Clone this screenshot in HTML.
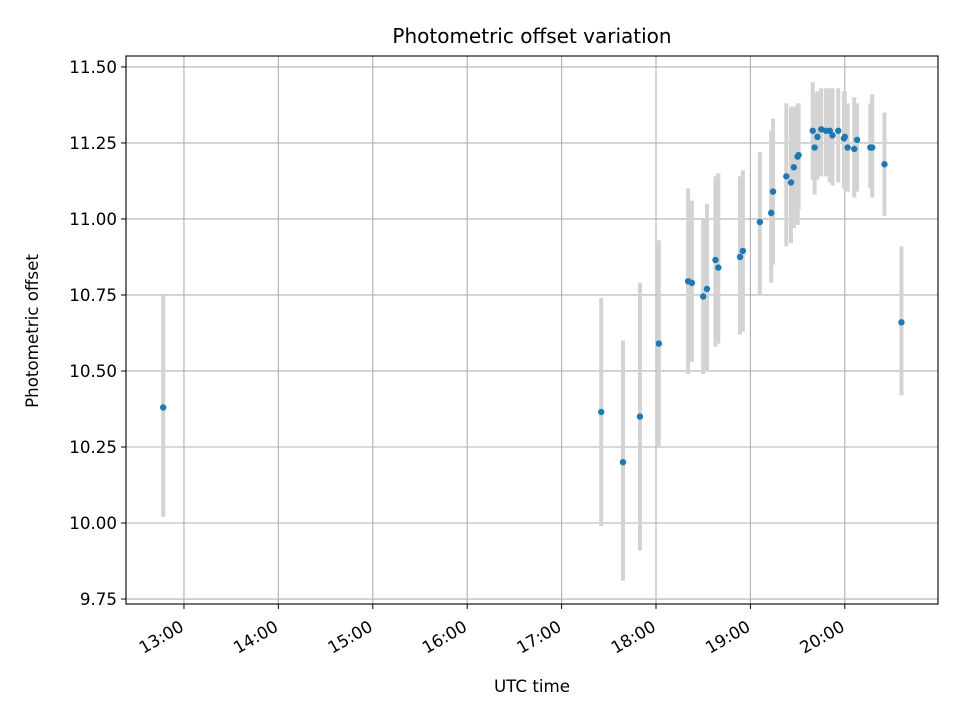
<!DOCTYPE html>
<html><head><meta charset="utf-8"><style>
html,body{margin:0;padding:0;background:#fff;}
svg{display:block;font-family:"DejaVu Sans","Liberation Sans",sans-serif;}
</style></head><body>
<svg id="chart" width="960" height="720" xmlns="http://www.w3.org/2000/svg">
<rect width="960" height="720" fill="#fff"/>
<text x="532" y="43" font-size="20" text-anchor="middle">Photometric offset variation</text>
<text x="532" y="692" font-size="16.7" text-anchor="middle">UTC time</text>
<text transform="translate(38,331) rotate(-90)" font-size="16.7" text-anchor="middle">Photometric offset</text>
<g id="grid"></g><g id="bars"></g><g id="pts"></g><g id="axes"></g>
</svg>
<script>
const times=[12.78,17.42,17.65,17.83,18.03,18.34,18.38,18.50,18.54,18.63,18.66,18.89,18.92,19.10,19.22,19.24,19.38,19.43,19.46,19.50,19.51,19.66,19.68,19.71,19.75,19.80,19.84,19.87,19.93,19.99,20.00,20.03,20.10,20.13,20.27,20.29,20.42,20.60];
const values=[10.38,10.365,10.20,10.35,10.59,10.795,10.79,10.745,10.77,10.865,10.84,10.875,10.895,10.99,11.02,11.09,11.14,11.12,11.17,11.205,11.21,11.29,11.235,11.27,11.295,11.29,11.29,11.275,11.29,11.265,11.27,11.235,11.23,11.26,11.235,11.235,11.18,10.66];
const lows=[10.02,9.99,9.81,9.91,10.25,10.49,10.53,10.49,10.50,10.58,10.59,10.62,10.63,10.75,10.79,10.85,10.91,10.92,10.97,10.98,11.03,11.13,11.08,11.13,11.14,11.14,11.12,11.11,11.12,11.10,11.12,11.09,11.07,11.09,11.10,11.07,11.01,10.42];
const highs=[10.75,10.74,10.60,10.79,10.93,11.10,11.06,11.00,11.05,11.14,11.15,11.14,11.16,11.22,11.29,11.33,11.38,11.37,11.37,11.38,11.38,11.45,11.41,11.42,11.43,11.43,11.43,11.43,11.43,11.42,11.42,11.38,11.40,11.38,11.38,11.41,11.35,10.91];
const xTicks=[13,14,15,16,17,18,19,20];
const xTickLabels=["13:00","14:00","15:00","16:00","17:00","18:00","19:00","20:00"];
const yTicks=[9.75,10.0,10.25,10.5,10.75,11.0,11.25,11.5];
const yTickLabels=["9.75","10.00","10.25","10.50","10.75","11.00","11.25","11.50"];

const L=126,R=938,T=56,B=604;
const xMin=12.386,xMax=20.987,yMin=9.7336,yMax=11.536;
const X=v=>L+(v-xMin)/(xMax-xMin)*(R-L);
const Y=v=>B-(v-yMin)/(yMax-yMin)*(B-T);
const NS="http://www.w3.org/2000/svg";
function mk(tag,attrs,parent){const e=document.createElementNS(NS,tag);for(const k in attrs)e.setAttribute(k,attrs[k]);parent.appendChild(e);return e;}
const grid=document.getElementById('grid'),bars=document.getElementById('bars'),pts=document.getElementById('pts'),axes=document.getElementById('axes');
xTicks.forEach((t,i)=>{const x=X(t);
const g=mk('line',{x1:x,x2:x,y1:T,y2:B,stroke:'#b0b0b0','stroke-width':1.1},grid);


mk('line',{x1:x,x2:x,y1:B,y2:B+5,stroke:'#000','stroke-width':1},axes);
const tx=mk('text',{x:0,y:0,transform:`translate(${x+1},${B+26}) rotate(-30)`,'font-size':16.7,'text-anchor':'end'},axes);
tx.textContent=xTickLabels[i];


});
yTicks.forEach((t,i)=>{const y=Y(t);
const g=mk('line',{x1:L,x2:R,y1:y,y2:y,stroke:'#b0b0b0','stroke-width':1.1},grid);


mk('line',{x1:L-5,x2:L,y1:y,y2:y,stroke:'#000','stroke-width':1},axes);
const tx=mk('text',{x:L-9,y:y+6,'font-size':16.7,'text-anchor':'end'},axes);
tx.textContent=yTickLabels[i];


});
times.forEach((t,i)=>{const x=X(t);
const b=mk('line',{x1:x,x2:x,y1:Y(lows[i]),y2:Y(highs[i]),stroke:'#d3d3d3','stroke-width':4},bars);


const c=mk('circle',{cx:x,cy:Y(values[i]),r:3.2,fill:'#1f77b4'},pts);


});
const fr=mk('rect',{x:L,y:T,width:R-L,height:B-T,fill:'none',stroke:'#000','stroke-width':1.1},axes);


</script>
</body></html>
